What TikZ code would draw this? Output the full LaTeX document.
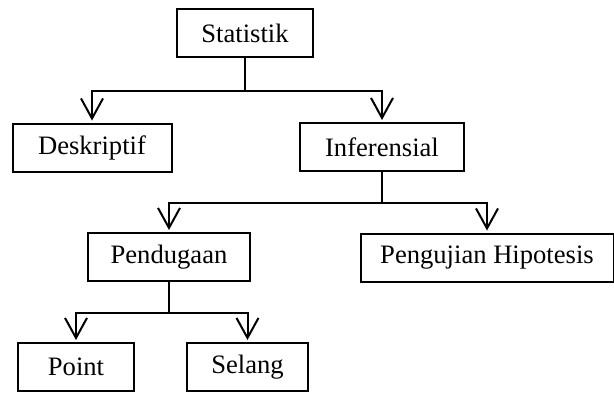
\documentclass[tikz,border=0pt]{standalone}
\usepackage{fontspec}
\setmainfont{Liberation Serif}
\usetikzlibrary{arrows.meta}
\begin{document}
\begin{tikzpicture}[x=1pt,y=-1pt]
  \tikzstyle{kotak}=[draw,line width=2pt,minimum height=48pt,inner sep=4pt,
    font=\fontsize{26.6}{30}\selectfont]
  \tikzstyle{garis}=[line width=2pt]
  \tikzstyle{panah}=[garis,-{Straight Barb[length=20pt,width=22pt,line width=2pt]},shorten >=2pt]
  \useasboundingbox (0,0) rectangle (614,392);
  \node[kotak,minimum width=136pt] (stat) at (245,33) {Statistik};
  \node[kotak,minimum width=159pt] (desk) at (92,147.5) {Deskriptif};
  \node[kotak,minimum width=164pt] (inf) at (382,147) {Inferensial};
  \node[kotak,minimum width=162pt] (pend) at (169,257) {Pendugaan};
  \node[kotak,minimum width=253pt] (uji) at (487,257.5) {Pengujian Hipotesis};
  \node[kotak,minimum width=116pt] (point) at (76,367) {Point};
  \node[kotak,minimum width=121pt] (selang) at (247.5,367) {Selang};
  % cabang
  \draw[garis] (stat.south) -- ++(0,33) coordinate (c1);
  \draw[panah] (c1) -| (desk.north);
  \draw[panah] (c1) -| (inf.north);
  \draw[garis] (inf.south) -- ++(0,31) coordinate (c2);
  \draw[panah] (c2) -| (pend.north);
  \draw[panah] (c2) -| (uji.north);
  \draw[garis] (pend.south) -- ++(0,31) coordinate (c3);
  \draw[panah] (c3) -| (point.north);
  \draw[panah] (c3) -| (selang.north);
\end{tikzpicture}
\end{document}
